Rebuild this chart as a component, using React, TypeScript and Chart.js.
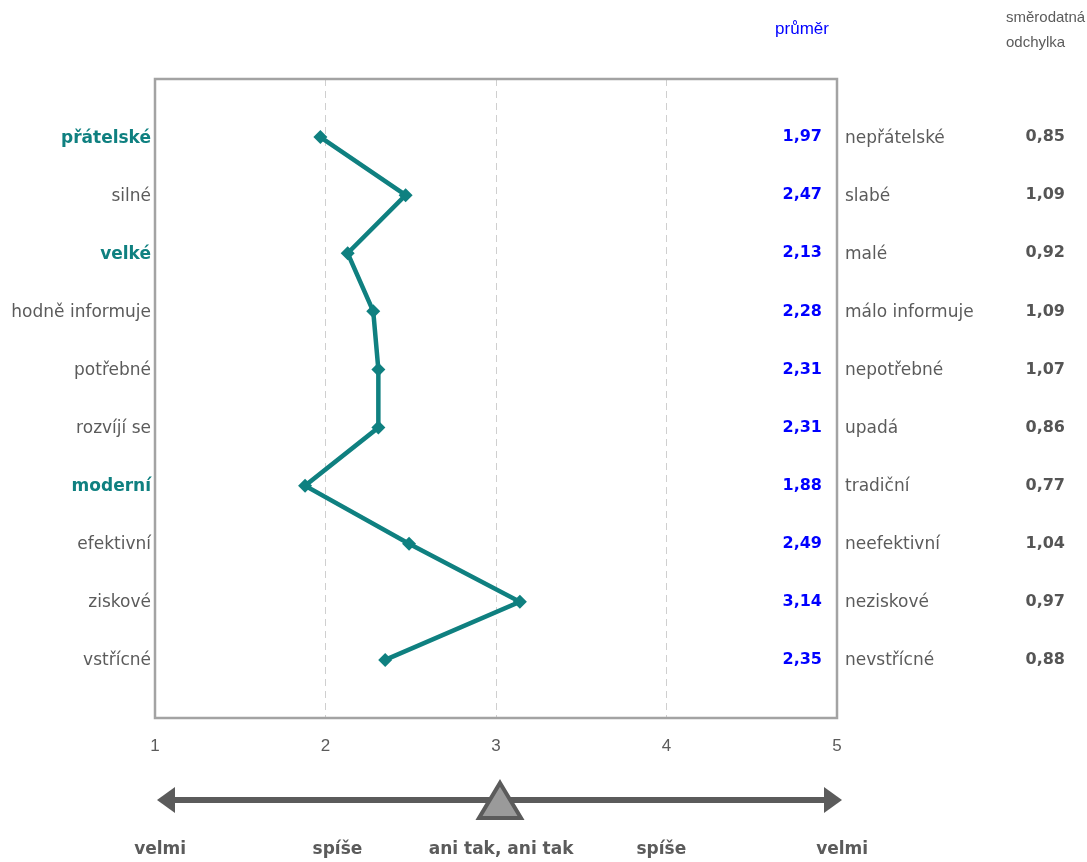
import React, { useEffect, useRef } from "react";
import { Chart, registerables } from "chart.js";

Chart.register(...registerables);

const leftLabels = ["přátelské", "silné", "velké", "hodně informuje", "potřebné", "rozvíjí se", "moderní", "efektivní", "ziskové", "vstřícné"];
const rightLabels = ["nepřátelské", "slabé", "malé", "málo informuje", "nepotřebné", "upadá", "tradiční", "neefektivní", "neziskové", "nevstřícné"];
const highlighted = [true, false, true, false, false, false, true, false, false, false];
const means = [1.97, 2.47, 2.13, 2.28, 2.31, 2.31, 1.88, 2.49, 3.14, 2.35];
const stdDevs = [0.85, 1.09, 0.92, 1.09, 1.07, 0.86, 0.77, 1.04, 0.97, 0.88];
const xTicks = [1, 2, 3, 4, 5];
const scaleLabels = ["velmi", "spíše", "ani tak, ani tak", "spíše", "velmi"];
const scaleLabelPos = [1.03, 2.07, 3.03, 3.97, 5.03];

const TEAL = "#0f8080";
const GRAY = "#5b5b5b";
const FONT = "'DejaVu Sans', Verdana, sans-serif";
const AFONT = "'Liberation Sans', Arial, sans-serif";

const fmt = (v: number) => v.toFixed(2).replace(".", ",");

const overlay = {
  id: "overlay",
  afterDraw(chart: any) {
    const ctx = chart.ctx as CanvasRenderingContext2D;
    const xs = chart.scales.x;
    const ys = chart.scales.y;
    const a = chart.chartArea;
    ctx.save();
    // frame
    ctx.strokeStyle = "#a3a3a3";
    ctx.lineWidth = 2.5;
    ctx.strokeRect(a.left, a.top, a.right - a.left, a.bottom - a.top);

    ctx.textBaseline = "middle";
    leftLabels.forEach((lab, i) => {
      const y = ys.getPixelForValue(i + 1) + 1;
      ctx.textAlign = "right";
      if (highlighted[i]) {
        ctx.font = `bold 17px ${FONT}`;
        ctx.fillStyle = TEAL;
      } else {
        ctx.font = `17px ${FONT}`;
        ctx.fillStyle = GRAY;
      }
      ctx.fillText(lab, a.left - 4, y);
      ctx.font = `bold 16px ${FONT}`;
      ctx.fillStyle = "#0000ff";
      ctx.fillText(fmt(means[i]), a.right - 15, y - 1);
      ctx.textAlign = "left";
      ctx.font = `17px ${FONT}`;
      ctx.fillStyle = GRAY;
      ctx.fillText(rightLabels[i], a.right + 8, y);
      ctx.textAlign = "right";
      ctx.font = `bold 16px ${FONT}`;
      ctx.fillStyle = "#555555";
      ctx.fillText(fmt(stdDevs[i]), 1065, y - 1);
    });

    // headers
    ctx.font = `17px ${AFONT}`;
    ctx.fillStyle = "#0000ff";
    ctx.textAlign = "center";
    ctx.fillText("průměr", 802, 29);
    ctx.font = `15px ${AFONT}`;
    ctx.fillStyle = GRAY;
    ctx.textAlign = "left";
    ctx.fillText("směrodatná", 1006, 18);
    ctx.fillText("odchylka", 1006, 43);

    // x ticks
    ctx.font = `17px ${AFONT}`;
    ctx.fillStyle = GRAY;
    ctx.textAlign = "center";
    xTicks.forEach((t) => {
      ctx.fillText(String(t), xs.getPixelForValue(t), 746);
    });

    // arrow
    const yA = 800;
    const xL = xs.getPixelForValue(1) + 2;
    const xR = xs.getPixelForValue(5) + 5;
    ctx.strokeStyle = GRAY;
    ctx.fillStyle = GRAY;
    ctx.lineWidth = 6;
    ctx.beginPath();
    ctx.moveTo(xL + 15, yA);
    ctx.lineTo(xR - 15, yA);
    ctx.stroke();
    ctx.beginPath();
    ctx.moveTo(xL, yA);
    ctx.lineTo(xL + 18, yA - 13);
    ctx.lineTo(xL + 18, yA + 13);
    ctx.closePath();
    ctx.fill();
    ctx.beginPath();
    ctx.moveTo(xR, yA);
    ctx.lineTo(xR - 18, yA - 13);
    ctx.lineTo(xR - 18, yA + 13);
    ctx.closePath();
    ctx.fill();
    // middle triangle
    const xc = xs.getPixelForValue(3) + 4;
    ctx.beginPath();
    ctx.moveTo(xc, 783);
    ctx.lineTo(xc + 21, 818);
    ctx.lineTo(xc - 21, 818);
    ctx.closePath();
    ctx.fillStyle = "#9a9a9a";
    ctx.fill();
    ctx.lineWidth = 4;
    ctx.lineJoin = "miter";
    ctx.strokeStyle = GRAY;
    ctx.stroke();

    // scale labels
    ctx.font = `bold 17px ${FONT}`;
    ctx.fillStyle = GRAY;
    ctx.textAlign = "center";
    scaleLabels.forEach((l, i) => {
      ctx.fillText(l, xs.getPixelForValue(scaleLabelPos[i]), 850);
    });
    ctx.restore();
  },
};

export default function App() {
  const ref = useRef<HTMLCanvasElement | null>(null);
  useEffect(() => {
    if (!ref.current) return;
    const chart = new Chart(ref.current, {
      type: "line",
      data: {
        datasets: [
          {
            data: means.map((v, i) => ({ x: v, y: i + 1 })),
            borderColor: TEAL,
            backgroundColor: TEAL,
            borderWidth: 4.5,
            pointStyle: "rectRot",
            pointRadius: 7,
            pointBorderWidth: 0,
            pointBackgroundColor: TEAL,
            fill: false,
            tension: 0,
          },
        ],
      },
      options: {
        animation: false,
        responsive: false,
        maintainAspectRatio: false,
        layout: { padding: { left: 155, right: 250, top: 79, bottom: 144 } },
        plugins: { legend: { display: false }, tooltip: { enabled: false } },
        scales: {
          x: {
            type: "linear",
            min: 1,
            max: 5,
            display: true,
            ticks: { display: false, stepSize: 1 },
            border: { display: false, dash: [7, 5] },
            grid: {
              drawTicks: false,
              color: (c: any) => (c.tick && c.tick.value > 1 && c.tick.value < 5 ? "#cfcfcf" : "rgba(0,0,0,0)"),
              lineWidth: 1,
            },
          } as any,
          y: {
            type: "linear",
            min: 0,
            max: 11,
            reverse: true,
            display: false,
          },
        },
      },
      plugins: [overlay],
    });
    return () => chart.destroy();
  }, []);
  return (
    <div style={{ position: "absolute", left: 0, top: 0, width: 1087, height: 862 }}>
      <canvas ref={ref} width={1087} height={862} style={{ width: 1087, height: 862, display: "block" }} />
    </div>
  );
}
